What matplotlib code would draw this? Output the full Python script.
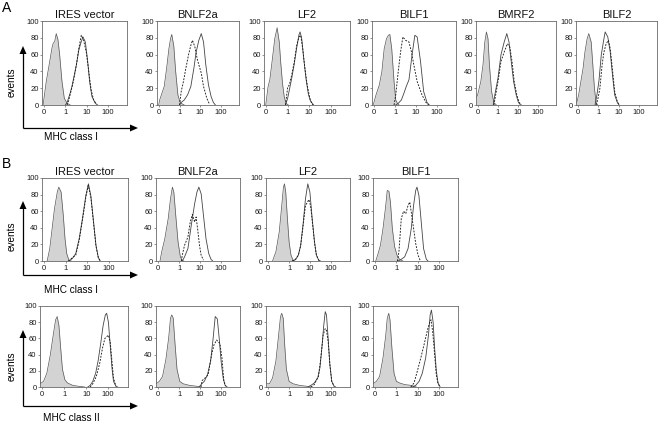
import numpy as np
import matplotlib
matplotlib.use("Agg")
import matplotlib.pyplot as plt
from matplotlib.patches import Polygon

plt.rcParams['font.family'] = ['Liberation Sans', 'DejaVu Sans']

# ---------------- axis labelling ----------------
x_tick_values = [0.1, 1, 10, 100]
x_tick_labels = ['0', '1', '10', '100']
y_tick_values = [0, 20, 40, 60, 80, 100]

titles_A = ['IRES vector', 'BNLF2a', 'LF2', 'BILF1', 'BMRF2', 'BILF2']
titles_B = ['IRES vector', 'BNLF2a', 'LF2', 'BILF1']
ylabel = 'events'
xlabel_I = 'MHC class I'
xlabel_II = 'MHC class II'

# ---------------- data: log10 fluorescence vs events ----------------
# Panel A, MHC class I
A_IRES_gray_x = [-1.05, -0.90, -0.75, -0.63, -0.58, -0.50, -0.43, -0.35, -0.27, -0.16, -0.05, 0.08, 0.23]
A_IRES_gray_y = [0, 28, 50, 68, 73, 76, 85, 78, 60, 28, 8, 2, 0]
A_IRES_solid_x = [0.0, 0.08, 0.20, 0.31, 0.39, 0.52, 0.63, 0.74, 0.83, 0.94, 1.05, 1.14, 1.25, 1.41, 1.52]
A_IRES_solid_y = [0, 3, 12, 22, 32, 48, 65, 75, 81, 75, 52, 28, 10, 2, 0]
A_IRES_dash_x = [0.08, 0.15, 0.26, 0.39, 0.52, 0.63, 0.75, 0.86, 0.99, 1.10, 1.21, 1.33, 1.46]
A_IRES_dash_y = [0, 5, 16, 30, 48, 67, 83, 77, 62, 40, 18, 6, 1]

A_BNLF2a_gray_x = [-1.02, -0.97, -0.86, -0.75, -0.63, -0.52, -0.44, -0.38, -0.28, -0.19, -0.08, 0.03, 0.15, 0.23]
A_BNLF2a_gray_y = [0, 6, 14, 22, 44, 67, 79, 84, 70, 40, 12, 3, 1, 0]
A_BNLF2a_solid_x = [0.0, 0.08, 0.23, 0.39, 0.55, 0.70, 0.81, 0.94, 1.06, 1.17, 1.28, 1.41, 1.54, 1.65, 1.75]
A_BNLF2a_solid_y = [0, 3, 6, 12, 22, 44, 63, 77, 85, 75, 48, 24, 10, 3, 0]
A_BNLF2a_dash_x = [0.0, 0.08, 0.19, 0.31, 0.44, 0.55, 0.63, 0.75, 0.86, 0.94, 1.06, 1.17, 1.33, 1.44]
A_BNLF2a_dash_y = [0, 16, 28, 44, 60, 71, 77, 69, 55, 48, 38, 22, 8, 2]

A_LF2_gray_x = [-1.02, -0.91, -0.83, -0.71, -0.60, -0.49, -0.39, -0.32, -0.24, -0.16, -0.08, 0.03]
A_LF2_gray_y = [0, 22, 30, 55, 79, 92, 75, 50, 26, 10, 2, 0]
A_LF2_solid_x = [-0.10, 0.0, 0.08, 0.19, 0.30, 0.42, 0.53, 0.58, 0.66, 0.74, 0.86, 0.97, 1.08, 1.21]
A_LF2_solid_y = [0, 8, 18, 32, 48, 68, 84, 87, 78, 57, 30, 12, 4, 0]
A_LF2_dash_x = [-0.10, 0.0, 0.08, 0.19, 0.30, 0.42, 0.53, 0.61, 0.70, 0.81, 0.92, 1.05, 1.17]
A_LF2_dash_y = [0, 21, 24, 36, 50, 71, 81, 83, 67, 42, 22, 6, 0]

A_BILF1_gray_x = [-1.05, -1.02, -0.91, -0.75, -0.63, -0.52, -0.41, -0.32, -0.25, -0.16, -0.05, 0.03, 0.11, 0.19]
A_BILF1_gray_y = [0, 2, 12, 24, 40, 67, 79, 83, 84, 67, 28, 6, 2, 0]
A_BILF1_solid_x = [0.03, 0.15, 0.30, 0.42, 0.53, 0.66, 0.81, 0.94, 1.05, 1.21, 1.36, 1.52, 1.63]
A_BILF1_solid_y = [0, 2, 6, 14, 22, 30, 60, 83, 81, 52, 16, 3, 0]
A_BILF1_dash_x = [-0.05, 0.03, 0.15, 0.26, 0.37, 0.50, 0.66, 0.78, 0.89, 1.05, 1.28, 1.47, 1.60]
A_BILF1_dash_y = [0, 12, 40, 63, 81, 77, 75, 63, 48, 28, 12, 3, 0]

A_BMRF2_gray_x = [-1.1, -1.02, -0.86, -0.75, -0.66, -0.58, -0.50, -0.43, -0.32, -0.21, -0.08]
A_BMRF2_gray_y = [8, 12, 28, 48, 75, 87, 79, 48, 16, 3, 0]
A_BMRF2_solid_x = [-0.24, -0.16, 0.0, 0.15, 0.31, 0.44, 0.55, 0.66, 0.78, 0.91, 1.02, 1.13]
A_BMRF2_solid_y = [0, 12, 32, 60, 75, 85, 75, 52, 28, 12, 3, 0]
A_BMRF2_dash_x = [-0.21, -0.16, 0.0, 0.15, 0.31, 0.47, 0.59, 0.70, 0.81, 0.94, 1.06, 1.17]
A_BMRF2_dash_y = [0, 6, 28, 52, 63, 73, 69, 52, 28, 12, 3, 0]

A_BILF2_gray_x = [-1.1, -1.05, -0.97, -0.86, -0.75, -0.66, -0.55, -0.47, -0.35, -0.27, -0.19, -0.11, -0.03]
A_BILF2_gray_y = [2, 4, 12, 28, 44, 63, 79, 85, 75, 48, 20, 3, 0]
A_BILF2_solid_x = [-0.16, -0.08, 0.03, 0.15, 0.28, 0.34, 0.47, 0.59, 0.70, 0.81, 0.94, 1.03]
A_BILF2_solid_y = [0, 10, 28, 60, 79, 87, 81, 63, 36, 12, 3, 0]
A_BILF2_dash_x = [-0.11, -0.03, 0.08, 0.19, 0.28, 0.39, 0.50, 0.59, 0.70, 0.81, 0.94, 1.03]
A_BILF2_dash_y = [0, 6, 20, 48, 63, 73, 77, 67, 42, 16, 4, 0]

# Panel B, MHC class I
B1_IRES_gray_x = [-0.86, -0.74, -0.63, -0.52, -0.39, -0.32, -0.21, -0.11, -0.03, 0.05, 0.15, 0.26]
B1_IRES_gray_y = [0, 15, 39, 63, 83, 89, 83, 55, 27, 9, 1, 0]
B1_IRES_solid_x = [0.15, 0.31, 0.47, 0.63, 0.78, 0.94, 1.06, 1.17, 1.30, 1.41, 1.52, 1.61]
B1_IRES_solid_y = [0, 3, 9, 27, 51, 79, 93, 79, 47, 19, 4, 0]
B1_IRES_dash_x = [0.12, 0.23, 0.36, 0.47, 0.63, 0.78, 0.94, 1.05, 1.17, 1.30, 1.41, 1.52, 1.61]
B1_IRES_dash_y = [0, 2, 5, 7, 25, 49, 77, 91, 77, 45, 18, 4, 0]

B1_BNLF2a_gray_x = [-0.91, -0.83, -0.68, -0.52, -0.41, -0.32, -0.25, -0.16, -0.05, 0.06, 0.15, 0.22]
B1_BNLF2a_gray_y = [0, 11, 27, 51, 75, 89, 83, 55, 23, 5, 1, 0]
B1_BNLF2a_solid_x = [0.15, 0.26, 0.42, 0.58, 0.74, 0.85, 0.94, 1.05, 1.16, 1.28, 1.41, 1.52, 1.60]
B1_BNLF2a_solid_y = [0, 5, 15, 43, 69, 83, 89, 81, 55, 27, 9, 2, 0]
B1_BNLF2a_dash_x = [0.11, 0.15, 0.26, 0.42, 0.53, 0.63, 0.74, 0.81, 0.89, 0.97, 1.05, 1.16]
B1_BNLF2a_dash_y = [0, 7, 19, 29, 47, 56, 47, 53, 37, 19, 7, 1]

B1_LF2_gray_x = [-0.79, -0.63, -0.47, -0.35, -0.27, -0.22, -0.16, -0.08, 0.0, 0.09, 0.19, 0.28]
B1_LF2_gray_y = [0, 11, 35, 67, 89, 93, 83, 51, 23, 7, 1, 0]
B1_LF2_solid_x = [0.15, 0.31, 0.44, 0.55, 0.66, 0.78, 0.89, 0.99, 1.10, 1.21, 1.30, 1.41, 1.49]
B1_LF2_solid_y = [0, 2, 7, 19, 43, 75, 93, 83, 51, 23, 7, 1, 0]
B1_LF2_dash_x = [0.15, 0.31, 0.44, 0.55, 0.66, 0.78, 0.88, 0.94, 1.02, 1.10, 1.21, 1.30, 1.41, 1.49]
B1_LF2_dash_y = [0, 2, 7, 18, 41, 67, 71, 74, 67, 49, 22, 7, 1, 0]

B1_BILF1_gray_x = [-0.97, -0.86, -0.75, -0.63, -0.50, -0.43, -0.35, -0.28, -0.19, -0.08, 0.03, 0.15, 0.31]
B1_BILF1_gray_y = [0, 9, 19, 39, 67, 85, 84, 71, 39, 17, 7, 2, 0]
B1_BILF1_solid_x = [0.08, 0.23, 0.39, 0.55, 0.70, 0.81, 0.91, 0.97, 1.06, 1.17, 1.28, 1.41, 1.49]
B1_BILF1_solid_y = [0, 2, 5, 15, 39, 67, 85, 89, 79, 47, 15, 2, 0]
B1_BILF1_dash_x = [0.05, 0.12, 0.23, 0.34, 0.44, 0.55, 0.63, 0.70, 0.81, 0.91, 1.02, 1.13]
B1_BILF1_dash_y = [0, 11, 51, 60, 57, 67, 71, 59, 39, 21, 7, 0]

# Panel B, MHC class II
B2_IRES_gray_x = [-1.1, -1.09, -0.94, -0.79, -0.63, -0.50, -0.39, -0.32, -0.24, -0.16, -0.08, 0.03, 0.15, 0.39, 0.63, 0.94]
B2_IRES_gray_y = [72, 4, 7, 17, 40, 64, 83, 87, 76, 48, 22, 9, 5, 2, 1, 0]
B2_IRES_solid_x = [1.07, 1.18, 1.30, 1.43, 1.54, 1.65, 1.77, 1.87, 1.93, 2.01, 2.09, 2.17, 2.24, 2.35, 2.43]
B2_IRES_solid_y = [0, 2, 7, 17, 32, 52, 76, 89, 91, 80, 52, 24, 7, 1, 0]
B2_IRES_dash_x = [1.18, 1.30, 1.46, 1.62, 1.74, 1.85, 1.93, 2.01, 2.09, 2.17, 2.24, 2.35]
B2_IRES_dash_y = [0, 4, 13, 30, 48, 60, 62, 64, 56, 32, 11, 1]

B2_BNLF2a_gray_x = [-1.1, -1.09, -0.94, -0.79, -0.63, -0.50, -0.41, -0.35, -0.28, -0.19, -0.10, 0.03, 0.19, 0.50, 0.81, 1.05]
B2_BNLF2a_gray_y = [74, 4, 7, 13, 34, 60, 85, 89, 85, 52, 22, 7, 4, 2, 1, 0]
B2_BNLF2a_solid_x = [0.95, 1.08, 1.20, 1.35, 1.50, 1.62, 1.72, 1.82, 1.91, 2.00, 2.10, 2.19, 2.29]
B2_BNLF2a_solid_y = [0, 4, 7, 15, 32, 60, 87, 84, 60, 32, 11, 2, 0]
B2_BNLF2a_dash_x = [1.04, 1.10, 1.23, 1.38, 1.55, 1.66, 1.79, 1.85, 1.94, 2.04, 2.13, 2.22]
B2_BNLF2a_dash_y = [0, 8, 11, 15, 40, 52, 58, 56, 54, 36, 7, 1]

B2_LF2_gray_x = [-1.1, -1.09, -0.94, -0.79, -0.63, -0.50, -0.41, -0.35, -0.28, -0.21, -0.13, 0.0, 0.19, 0.50, 0.81, 1.05]
B2_LF2_gray_y = [74, 4, 4, 11, 32, 64, 87, 91, 85, 52, 22, 7, 4, 2, 1, 0]
B2_LF2_solid_x = [0.89, 1.04, 1.20, 1.36, 1.47, 1.56, 1.65, 1.72, 1.78, 1.86, 1.94, 2.03, 2.14, 2.22]
B2_LF2_solid_y = [0, 2, 5, 11, 24, 48, 76, 93, 89, 60, 28, 7, 1, 0]
B2_LF2_dash_x = [1.04, 1.20, 1.31, 1.40, 1.51, 1.62, 1.72, 1.78, 1.86, 1.94, 2.03, 2.14]
B2_LF2_dash_y = [0, 3, 9, 13, 36, 64, 72, 70, 56, 28, 7, 1]

B2_BILF1_gray_x = [-1.1, -1.09, -0.94, -0.79, -0.63, -0.50, -0.43, -0.36, -0.30, -0.21, -0.11, 0.0, 0.15, 0.39, 0.70, 0.94]
B2_BILF1_gray_y = [55, 4, 7, 13, 36, 64, 85, 91, 83, 48, 17, 7, 5, 3, 2, 0]
B2_BILF1_solid_x = [0.75, 0.91, 1.07, 1.22, 1.38, 1.51, 1.59, 1.65, 1.73, 1.80, 1.88, 1.96, 2.06]
B2_BILF1_solid_y = [0, 2, 7, 17, 36, 64, 89, 95, 80, 48, 20, 5, 0]
B2_BILF1_dash_x = [0.68, 0.83, 0.99, 1.15, 1.30, 1.46, 1.57, 1.63, 1.71, 1.80, 1.88, 1.96, 2.06]
B2_BILF1_dash_y = [0, 5, 20, 36, 52, 70, 80, 83, 68, 40, 15, 4, 0]

# ---------------- layout (pixels) ----------------
W, H = 659, 424
rowA_boxes = [(42, 127), (157, 239), (264, 350), (372, 456), (476, 556), (576, 657)]
rowA_tb = (21, 105)
rowB_boxes = [(42, 128), (156, 240), (266, 350), (373, 458)]
rowB_tb = (178, 261)
rowC_boxes = [(40, 128), (156, 240), (266, 350), (373, 458)]
rowC_tb = (306, 387)

panels_A = [
    (A_IRES_gray_x, A_IRES_gray_y, A_IRES_solid_x, A_IRES_solid_y, A_IRES_dash_x, A_IRES_dash_y),
    (A_BNLF2a_gray_x, A_BNLF2a_gray_y, A_BNLF2a_solid_x, A_BNLF2a_solid_y, A_BNLF2a_dash_x, A_BNLF2a_dash_y),
    (A_LF2_gray_x, A_LF2_gray_y, A_LF2_solid_x, A_LF2_solid_y, A_LF2_dash_x, A_LF2_dash_y),
    (A_BILF1_gray_x, A_BILF1_gray_y, A_BILF1_solid_x, A_BILF1_solid_y, A_BILF1_dash_x, A_BILF1_dash_y),
    (A_BMRF2_gray_x, A_BMRF2_gray_y, A_BMRF2_solid_x, A_BMRF2_solid_y, A_BMRF2_dash_x, A_BMRF2_dash_y),
    (A_BILF2_gray_x, A_BILF2_gray_y, A_BILF2_solid_x, A_BILF2_solid_y, A_BILF2_dash_x, A_BILF2_dash_y),
]
panels_B1 = [
    (B1_IRES_gray_x, B1_IRES_gray_y, B1_IRES_solid_x, B1_IRES_solid_y, B1_IRES_dash_x, B1_IRES_dash_y),
    (B1_BNLF2a_gray_x, B1_BNLF2a_gray_y, B1_BNLF2a_solid_x, B1_BNLF2a_solid_y, B1_BNLF2a_dash_x, B1_BNLF2a_dash_y),
    (B1_LF2_gray_x, B1_LF2_gray_y, B1_LF2_solid_x, B1_LF2_solid_y, B1_LF2_dash_x, B1_LF2_dash_y),
    (B1_BILF1_gray_x, B1_BILF1_gray_y, B1_BILF1_solid_x, B1_BILF1_solid_y, B1_BILF1_dash_x, B1_BILF1_dash_y),
]
panels_B2 = [
    (B2_IRES_gray_x, B2_IRES_gray_y, B2_IRES_solid_x, B2_IRES_solid_y, B2_IRES_dash_x, B2_IRES_dash_y),
    (B2_BNLF2a_gray_x, B2_BNLF2a_gray_y, B2_BNLF2a_solid_x, B2_BNLF2a_solid_y, B2_BNLF2a_dash_x, B2_BNLF2a_dash_y),
    (B2_LF2_gray_x, B2_LF2_gray_y, B2_LF2_solid_x, B2_LF2_solid_y, B2_LF2_dash_x, B2_LF2_dash_y),
    (B2_BILF1_gray_x, B2_BILF1_gray_y, B2_BILF1_solid_x, B2_BILF1_solid_y, B2_BILF1_dash_x, B2_BILF1_dash_y),
]

fig = plt.figure(figsize=(W / 100, H / 100), dpi=100)
fig.patch.set_facecolor('white')

BOX_COLOR = '#6a6a6a'


def make_axes(l, r, t, b):
    return fig.add_axes([l / W, 1 - b / H, (r - l) / W, (b - t) / H])


def draw_panel(ax, data):
    gx, gy, sx, sy, dx, dy = data
    gxv = 10 ** np.array(gx, dtype=float)
    ax.fill_between(gxv, gy, 0, color='#d3d3d3', lw=0, zorder=1)
    ax.plot(gxv, gy, color='#555555', lw=0.5, zorder=2)
    ax.plot(10 ** np.array(sx, dtype=float), sy, color='#444444', lw=0.6, zorder=3)
    ax.plot(10 ** np.array(dx, dtype=float), dy, color='#1a1a1a', lw=0.65,
            ls=(0, (2.0, 1.5)), zorder=4)
    ax.set_xscale('log')
    ax.set_xlim(10 ** -1.1, 10 ** 2.9)
    ax.set_ylim(0, 100)
    ax.set_xticks(x_tick_values)
    ax.set_xticklabels(x_tick_labels)
    ax.xaxis.set_minor_locator(matplotlib.ticker.NullLocator())
    ax.set_yticks(y_tick_values)
    ax.tick_params(axis='both', labelsize=5.5, length=1.5, width=0.5,
                   color=BOX_COLOR, labelcolor='#1a1a1a')
    ax.tick_params(axis='x', pad=1.5)
    ax.tick_params(axis='y', pad=1)
    for sp in ax.spines.values():
        sp.set_color(BOX_COLOR)
        sp.set_linewidth(0.6)


# overlay in pixel coordinates for annotations
ov = fig.add_axes([0, 0, 1, 1], zorder=10)
ov.set_xlim(0, W)
ov.set_ylim(H, 0)
ov.axis('off')
ov.patch.set_alpha(0)

rows = [
    (rowA_boxes, rowA_tb, panels_A, titles_A),
    (rowB_boxes, rowB_tb, panels_B1, titles_B),
    (rowC_boxes, rowC_tb, panels_B2, None),
]
for boxes, (t, b), panels, titles in rows:
    for i, ((l, r), data) in enumerate(zip(boxes, panels)):
        ax = make_axes(l, r, t, b)
        draw_panel(ax, data)
        if titles is not None:
            ov.text((l + r) / 2, t - 3, titles[i], ha='center', va='baseline',
                    fontsize=8, color='#111111')

# panel letters
ov.text(2, 12, 'A', fontsize=10, ha='left', va='baseline')
ov.text(2, 168, 'B', fontsize=10, ha='left', va='baseline')

# axis arrows + labels
AX_X = 23
TIP_X = 138
arrow_rows = [(128, 46, 82, 137, xlabel_I), (275, 201, 236, 290, xlabel_I), (406, 330, 366, 418, xlabel_II)]
for corner, tip, ev_y, lab_y, lab in arrow_rows:
    ov.plot([AX_X, AX_X], [corner, tip + 7], color='black', lw=0.9, solid_capstyle='butt')
    ov.plot([AX_X, TIP_X - 7], [corner, corner], color='black', lw=0.9, solid_capstyle='butt')
    ov.add_patch(Polygon([[AX_X, tip], [AX_X - 3.5, tip + 8], [AX_X + 3.5, tip + 8]],
                         closed=True, color='black', lw=0))
    ov.add_patch(Polygon([[TIP_X, corner], [TIP_X - 8, corner - 3.5], [TIP_X - 8, corner + 3.5]],
                         closed=True, color='black', lw=0))
    ov.text(12, ev_y, ylabel, rotation=90, ha='center', va='center', fontsize=7.2)
    ov.text(71, lab_y, lab, ha='center', va='center', fontsize=7.2)

fig.savefig('out.png', dpi=100)
